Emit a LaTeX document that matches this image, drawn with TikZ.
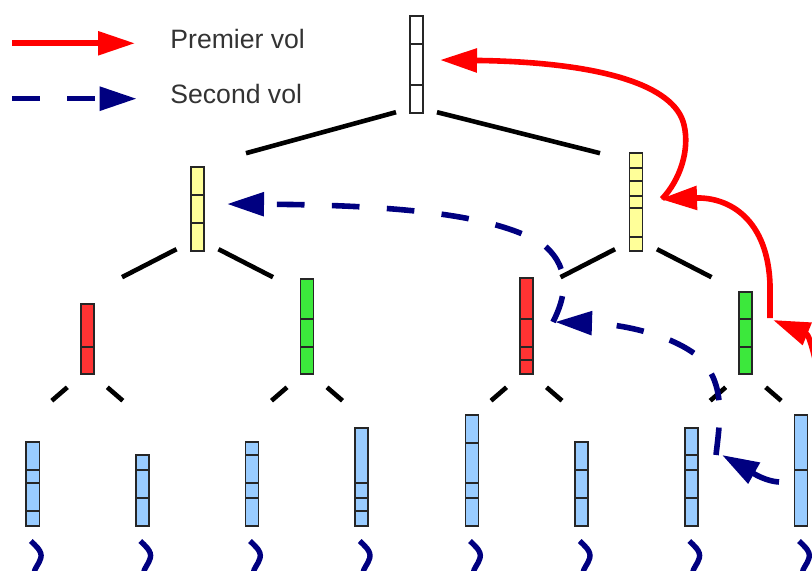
\documentclass[tikz,border=0pt]{standalone}
\usepackage{fontspec}
\setmainfont{Liberation Sans}
\usetikzlibrary{arrows.meta}

\definecolor{navyblue}{RGB}{0,0,128}
\definecolor{cellyellow}{RGB}{255,255,153}
\definecolor{cellred}{RGB}{255,51,51}
\definecolor{cellgreen}{RGB}{60,232,60}
\definecolor{cellblue}{RGB}{153,204,255}

\tikzset{
  box/.style={draw=black!85, line width=0.85pt, minimum width=6.6pt, inner sep=0pt, outer sep=0pt},
  divider/.style={draw=black!85, line width=0.85pt},
  link/.style={line width=2.3pt},
  premier/.style={red, line width=2.8pt, ->, >={Triangle[length=18.5pt,width=11.5pt]}},
  second/.style={navyblue, line width=2.8pt, dash pattern=on 13.8pt off 13.7pt, ->, >={Triangle[length=18.5pt,width=11.5pt]}},
  wave/.style={navyblue, line width=2.7pt},
  legend/.style={font=\fontsize{13.3}{16}\selectfont, text=black!80, inner sep=0pt, anchor=base west},
}

% one column of cells: name, x, top, bottom, colour, dividers
\newcommand{\pile}[6]{%
  \node[box, fill=#5, minimum height={(#4-#3)*0.5pt}] (#1) at (#2,{(#3+#4)/2}) {};
  \foreach \yy in {#6} \draw[divider] (#1.west |- 0,\yy) -- (#1.east |- 0,\yy);
}

\begin{document}
\begin{tikzpicture}[x=0.5pt, y=-0.5pt]
    \useasboundingbox (0,0) rectangle (812,571);
    \clip (0,0) rectangle (812,571);

    % legend
    \coordinate (pa) at (12,43.3);
    \coordinate (pb) at (135,43.3);
    \coordinate (sa) at (12,98.7);
    \coordinate (sb) at (136.7,98.7);
    \draw[premier] (pa) -- (pb);
    \draw[second] (sa) -- (sb);
    \node[legend] (premier) at (170,48.3) {Premier vol};
    \node[legend] (second) at (170,103.3) {Second vol};

    % tree
    \pile{root}{416.7}{16}{112.7}{white}{43.7,85}
    \pile{yl}{197.5}{167.3}{250.7}{cellyellow}{195,222.7}
    \pile{yr}{636}{153.3}{250.7}{cellyellow}{168.3,181,195.7,208.3,236.7}
    \pile{rl}{87.3}{304}{374.3}{cellred}{346.7}
    \pile{gl}{307}{279.3}{374.3}{cellgreen}{319,346.7}
    \pile{rc}{526.5}{277.7}{374.3}{cellred}{319,346.7,360}
    \pile{gr}{745.7}{291.7}{374.3}{cellgreen}{319,346.7}
    \pile{leaf1}{32.8}{442.3}{525.7}{cellblue}{470.3,483,510.7}
    \pile{leaf2}{142.3}{455}{525.7}{cellblue}{470.3,498}
    \pile{leaf3}{252}{442.3}{525.7}{cellblue}{455,483,498}
    \pile{leaf4}{361.7}{427.7}{525.7}{cellblue}{483,498,510.7}
    \pile{leaf5}{472}{414.7}{525.7}{cellblue}{442.7,483,498}
    \pile{leaf6}{581.7}{442.3}{525.7}{cellblue}{470.3,498}
    \pile{leaf7}{691.3}{427.7}{525.7}{cellblue}{455.3,470.3,498}
    \pile{leaf8}{801}{414.7}{525.7}{cellblue}{470.3}

    % branches
    \draw[link] (root.south) ++(-20.7,-0.5) -- ++(-150,41);
    \draw[link] (root.south) ++(20.3,-0.5) -- ++(163,41);
    \foreach \n in {yl,yr} {
        \draw[link] (\n.south) ++(-21,-1.5) -- ++(-54.5,28);
        \draw[link] (\n.south) ++(21,-1.5) -- ++(54.5,28);
    }
    \foreach \n in {rl,gl,rc,gr} {
        \draw[link] (\n.south) ++(-20,13) -- ++(-15.5,13.4);
        \draw[link] (\n.south) ++(20,13) -- ++(15.5,13.4);
    }

    % rest of each list
    \foreach \i in {1,...,8}
        \draw[wave] (leaf\i.south) ++(-2,15.3) .. controls +(4,4) and +(2,-7) .. ++(10,17)
            .. controls +(-2,7) and +(1,-7) .. ++(-7,16);

    % first flight
    \coordinate (r3a) at (830,450);
    \coordinate (r3b) at (773,320);
    \coordinate (r2a) at (770,318);
    \coordinate (r2b) at (660,199);
    \coordinate (r1a) at (662,199);
    \coordinate (r1b) at (440,60);
    \draw[premier] (r3a) .. controls (820,370) and (810,335) .. (r3b);
    \draw[premier] (r2a) -- (770,285) .. controls (768,220) and (730,197) .. (r2b);
    \draw[premier] (r1a) .. controls (680,180) and (690,150) .. (684,125)
        .. controls (675,85) and (600,62) .. (r1b);

    % second flight
    \coordinate (s3a) at (779,482);
    \coordinate (s3b) at (722,455);
    \coordinate (s2a) at (716,455);
    \coordinate (s2b) at (555,322);
    \coordinate (s1a) at (553,322);
    \coordinate (s1b) at (227,204);
    \draw[second] (s3a) .. controls (762,481) and (745,468) .. (s3b);
    \draw[second] (s2a) .. controls (720,420) and (726,385) .. (700,358)
        .. controls (672,334) and (620,324) .. (s2b);
    \draw[second] (s1a) .. controls (565,298) and (572,270) .. (545,246)
        .. controls (500,215) and (400,205) .. (s1b);
\end{tikzpicture}
\end{document}
